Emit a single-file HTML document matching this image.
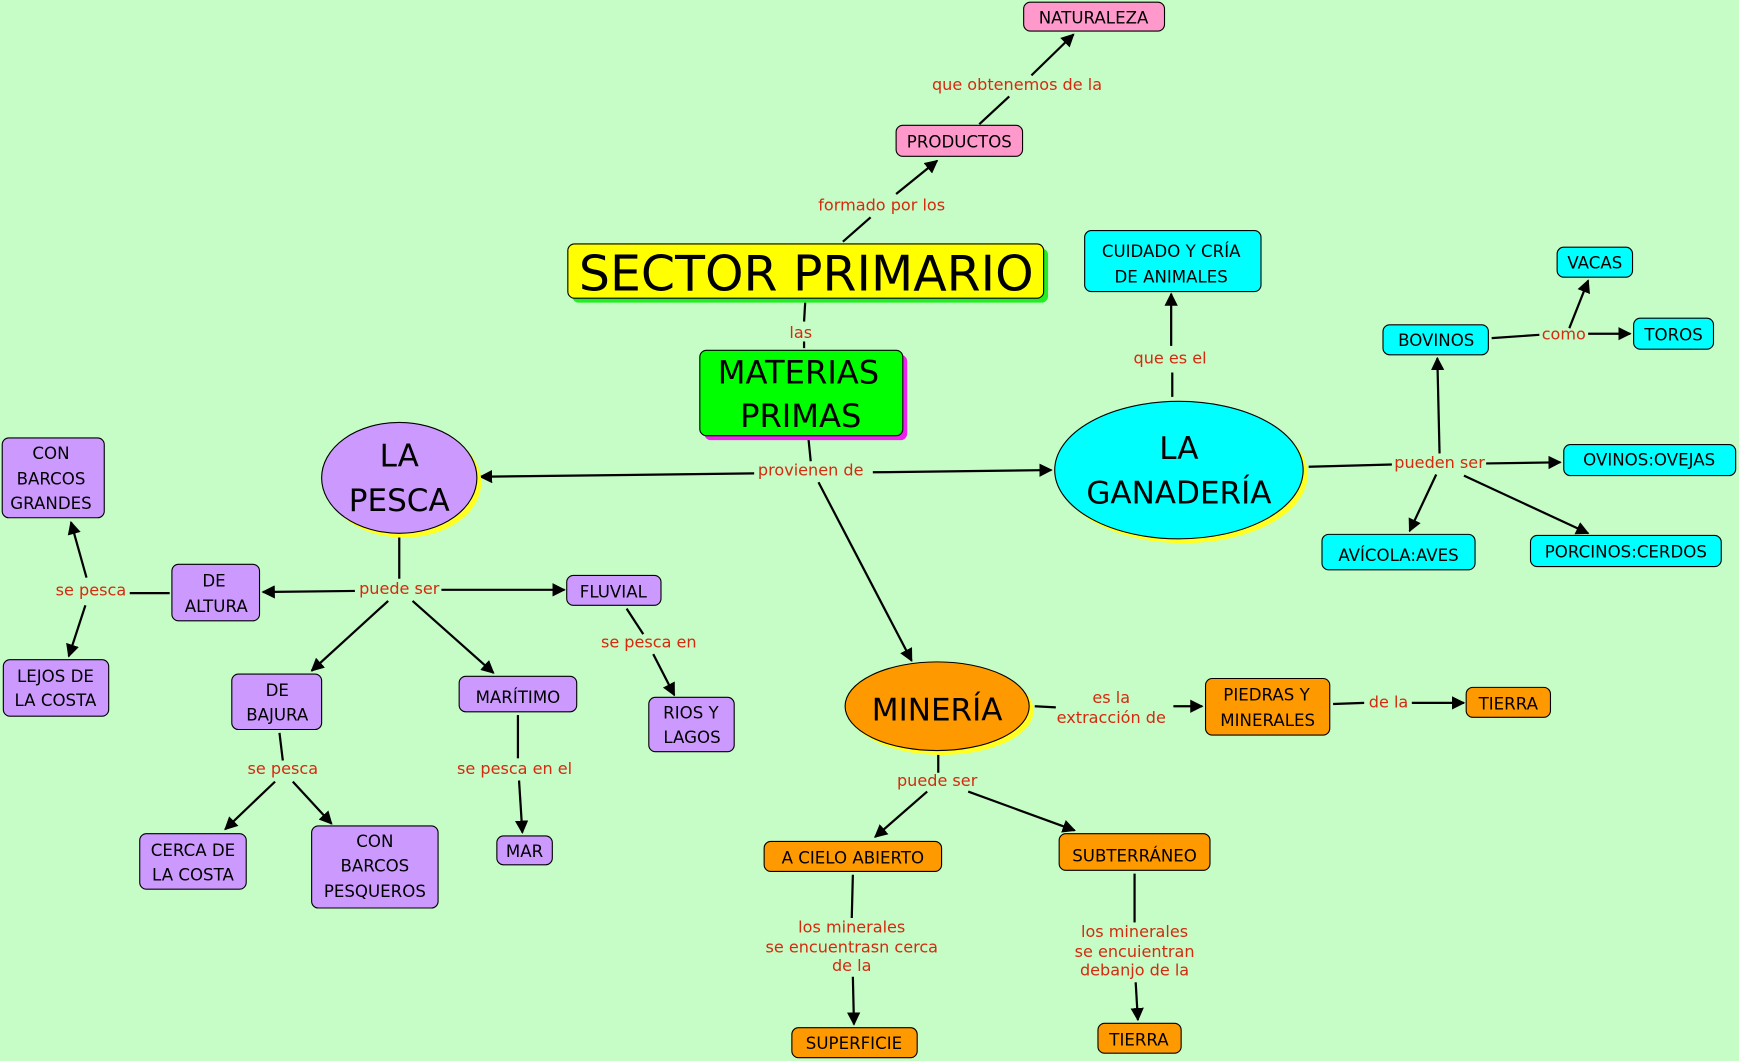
<!DOCTYPE html>
<html><head><meta charset="utf-8"><style>
html,body{margin:0;padding:0;background:#c6fcc6;overflow:hidden}
svg{display:block}
.n{font-family:"DejaVu Sans","Liberation Sans",sans-serif;font-size:15px;fill:#000;text-anchor:middle}
.l{font-family:"DejaVu Sans","Liberation Sans",sans-serif;font-size:14.5px;fill:#d42a10;text-anchor:middle}
.e{stroke:#000;stroke-width:2;fill:none}
.a{stroke:#000;stroke-width:2;fill:none;marker-end:url(#ar)}
.b{stroke:#000;stroke-width:1}
</style></head><body>
<svg width="1739" height="1061" viewBox="0 0 1568 957" preserveAspectRatio="none" xmlns="http://www.w3.org/2000/svg">
<defs><marker id="ar" viewBox="0 0 10 10" refX="9" refY="5" markerWidth="6" markerHeight="6" orient="auto" markerUnits="userSpaceOnUse"><path d="M0,0 L10,5 L0,10 z" fill="#000"/></marker>
<marker id="ar2" viewBox="0 0 10 10" refX="9" refY="5" markerWidth="12" markerHeight="12" orient="auto" markerUnits="userSpaceOnUse"><path d="M0,0 L10,5 L0,10 z" fill="#000"/></marker></defs>
<style>.a{marker-end:url(#ar2)}</style>
<rect width="1568" height="957" fill="#c6fcc6"/>

<!-- connectors -->
<line class="e" x1="760" y1="218" x2="785" y2="196"/><line class="a" x1="808" y1="175" x2="845" y2="145"/>
<line class="e" x1="883" y1="112" x2="910" y2="87"/><line class="a" x1="930" y1="68" x2="968" y2="31"/>
<line class="e" x1="726" y1="273" x2="725" y2="290"/><line class="e" x1="725" y1="308" x2="725" y2="314"/>
<line class="e" x1="729" y1="396" x2="731" y2="416"/>
<line class="a" x1="680" y1="427" x2="433" y2="430"/>
<line class="a" x1="787" y1="426" x2="948" y2="424"/>
<line class="a" x1="738" y1="435" x2="822" y2="596"/>
<line class="e" x1="1057" y1="358" x2="1057" y2="336"/><line class="a" x1="1056" y1="312" x2="1056" y2="265"/>
<line class="e" x1="1180" y1="421" x2="1255" y2="419"/>
<line class="a" x1="1298" y1="409" x2="1296" y2="323"/>
<line class="a" x1="1340" y1="418" x2="1407" y2="417"/>
<line class="a" x1="1295" y1="428" x2="1271" y2="479"/>
<line class="a" x1="1320" y1="429" x2="1432" y2="481"/>
<line class="e" x1="1345" y1="305" x2="1388" y2="302"/>
<line class="a" x1="1415" y1="296" x2="1432" y2="253"/>
<line class="a" x1="1432" y1="301" x2="1470" y2="301"/>
<line class="e" x1="360" y1="484" x2="360" y2="522"/>
<line class="a" x1="320" y1="533" x2="237" y2="534"/>
<line class="a" x1="398" y1="532" x2="509" y2="532"/>
<line class="a" x1="350" y1="542" x2="281" y2="605"/>
<line class="a" x1="372" y1="542" x2="445" y2="607"/>
<line class="e" x1="153" y1="535" x2="117" y2="535"/>
<line class="a" x1="78" y1="521" x2="64" y2="471"/>
<line class="a" x1="77" y1="546" x2="62" y2="592"/>
<line class="e" x1="252" y1="661" x2="255" y2="686"/>
<line class="a" x1="248" y1="705" x2="203" y2="748"/>
<line class="a" x1="264" y1="705" x2="299" y2="743"/>
<line class="e" x1="467" y1="645" x2="467" y2="684"/><line class="a" x1="468" y1="704" x2="471" y2="751"/>
<line class="e" x1="565" y1="549" x2="580" y2="572"/><line class="a" x1="589" y1="590" x2="608" y2="627"/>
<line class="e" x1="933" y1="637" x2="952" y2="638"/><line class="a" x1="1058" y1="637" x2="1084" y2="637"/>
<line class="e" x1="1202" y1="635" x2="1230" y2="634"/><line class="a" x1="1273" y1="634" x2="1320" y2="634"/>
<line class="e" x1="846" y1="680" x2="846" y2="697"/>
<line class="a" x1="836" y1="714" x2="789" y2="755"/>
<line class="a" x1="873" y1="714" x2="969" y2="749"/>
<line class="e" x1="769" y1="789" x2="768" y2="828"/><line class="a" x1="769" y1="881" x2="770" y2="924"/>
<line class="e" x1="1023" y1="788" x2="1023" y2="832"/><line class="a" x1="1024" y1="886" x2="1026" y2="920"/>

<!-- labels -->
<text class="l" x="795" y="190">formado por los</text>
<text class="l" x="917" y="81">que obtenemos de la</text>
<text class="l" x="722" y="305">las</text>
<text class="l" x="731" y="429">provienen de</text>
<text class="l" x="1055" y="328">que es el</text>
<text class="l" x="1298" y="422">pueden ser</text>
<text class="l" x="1410" y="306">como</text>
<text class="l" x="360" y="536">puede ser</text>
<text class="l" x="82" y="537">se pesca</text>
<text class="l" x="255" y="698">se pesca</text>
<text class="l" x="464" y="698">se pesca en el</text>
<text class="l" x="585" y="584">se pesca en</text>
<text class="l" x="1002" y="634">es la</text><text class="l" x="1002" y="652">extracción de</text>
<text class="l" x="1252" y="638">de la</text>
<text class="l" x="845" y="709">puede ser</text>
<text class="l" x="768" y="841">los minerales</text><text class="l" x="768" y="859">se encuentrasn cerca</text><text class="l" x="768" y="876">de la</text>
<text class="l" x="1023" y="845">los minerales</text><text class="l" x="1023" y="863">se encuientran</text><text class="l" x="1023" y="880">debanjo de la</text>

<!-- nodes -->
<g class="b">
<rect x="923" y="2" width="127" height="26" rx="6" fill="#ff99cc"/>
<rect x="808" y="113" width="114" height="28" rx="6" fill="#ff99cc"/>
<rect x="516" y="224" width="429" height="49" rx="6" fill="#22ee22" stroke="none"/>
<rect x="512" y="220" width="429" height="49" rx="6" fill="#ffff00"/>
<rect x="635" y="320" width="183" height="77" rx="6" fill="#ee22ee" stroke="none"/>
<rect x="631" y="316" width="183" height="77" rx="6" fill="#00ff00"/>
<rect x="978" y="208" width="159" height="55" rx="6" fill="#00ffff"/>
<rect x="1404" y="223" width="68" height="27" rx="6" fill="#00ffff"/>
<rect x="1247" y="293" width="95" height="27" rx="6" fill="#00ffff"/>
<rect x="1473" y="287" width="72" height="28" rx="6" fill="#00ffff"/>
<rect x="1410" y="401" width="155" height="28" rx="6" fill="#00ffff"/>
<rect x="1192" y="482" width="138" height="32" rx="6" fill="#00ffff"/>
<rect x="1380" y="483" width="172" height="28" rx="6" fill="#00ffff"/>
<ellipse cx="1067" cy="428" rx="112" ry="62" fill="#ffff22" stroke="none"/>
<ellipse cx="1063" cy="424" rx="112" ry="62" fill="#00ffff"/>
<ellipse cx="364" cy="435" rx="70" ry="50" fill="#ffff22" stroke="none"/>
<ellipse cx="360" cy="431" rx="70" ry="50" fill="#cc99ff"/>
<rect x="2" y="395" width="92" height="72" rx="6" fill="#cc99ff"/>
<rect x="155" y="509" width="79" height="51" rx="6" fill="#cc99ff"/>
<rect x="3" y="595" width="95" height="51" rx="6" fill="#cc99ff"/>
<rect x="511" y="519" width="85" height="27" rx="6" fill="#cc99ff"/>
<rect x="209" y="608" width="81" height="50" rx="6" fill="#cc99ff"/>
<rect x="414" y="610" width="106" height="32" rx="6" fill="#cc99ff"/>
<rect x="585" y="629" width="77" height="49" rx="6" fill="#cc99ff"/>
<rect x="126" y="752" width="96" height="50" rx="6" fill="#cc99ff"/>
<rect x="281" y="745" width="114" height="74" rx="6" fill="#cc99ff"/>
<rect x="448" y="754" width="50" height="26" rx="6" fill="#cc99ff"/>
<ellipse cx="849" cy="641" rx="83" ry="40" fill="#ffff22" stroke="none"/>
<ellipse cx="845" cy="637" rx="83" ry="40" fill="#ff9900"/>
<rect x="1087" y="612" width="112" height="51" rx="6" fill="#ff9900"/>
<rect x="1322" y="620" width="76" height="27" rx="6" fill="#ff9900"/>
<rect x="689" y="759" width="160" height="27" rx="6" fill="#ff9900"/>
<rect x="955" y="752" width="136" height="33" rx="6" fill="#ff9900"/>
<rect x="714" y="927" width="113" height="27" rx="6" fill="#ff9900"/>
<rect x="990" y="923" width="75" height="27" rx="6" fill="#ff9900"/>
</g>

<text class="n" x="986" y="21">NATURALEZA</text>
<text class="n" x="865" y="133">PRODUCTOS</text>
<text class="n" x="727" y="262" style="font-size:44px" textLength="410" lengthAdjust="spacingAndGlyphs">SECTOR PRIMARIO</text>
<text class="n" x="720" y="346" style="font-size:29px">MATERIAS</text>
<text class="n" x="722" y="385" style="font-size:29px">PRIMAS</text>
<text class="n" x="1056" y="232">CUIDADO Y CRÍA</text><text class="n" x="1056" y="255">DE ANIMALES</text>
<text class="n" x="1438" y="242">VACAS</text>
<text class="n" x="1295" y="312">BOVINOS</text>
<text class="n" x="1509" y="307">TOROS</text>
<text class="n" x="1487" y="420">OVINOS:OVEJAS</text>
<text class="n" x="1261" y="506">AVÍCOLA:AVES</text>
<text class="n" x="1466" y="503">PORCINOS:CERDOS</text>
<text class="n" x="1063" y="414" style="font-size:28px">LA</text><text class="n" x="1063" y="454" style="font-size:28px">GANADERÍA</text>
<text class="n" x="360" y="421" style="font-size:28px">LA</text><text class="n" x="360" y="461" style="font-size:28px">PESCA</text>
<text class="n" x="46" y="414">CON</text><text class="n" x="46" y="437">BARCOS</text><text class="n" x="46" y="459">GRANDES</text>
<text class="n" x="193" y="529">DE</text><text class="n" x="195" y="552">ALTURA</text>
<text class="n" x="50" y="615">LEJOS DE</text><text class="n" x="50" y="637">LA COSTA</text>
<text class="n" x="553" y="539">FLUVIAL</text>
<text class="n" x="250" y="628">DE</text><text class="n" x="250" y="650">BAJURA</text>
<text class="n" x="467" y="634">MARÍTIMO</text>
<text class="n" x="623" y="648">RIOS Y</text><text class="n" x="624" y="670">LAGOS</text>
<text class="n" x="174" y="772">CERCA DE</text><text class="n" x="174" y="794">LA COSTA</text>
<text class="n" x="338" y="764">CON</text><text class="n" x="338" y="786">BARCOS</text><text class="n" x="338" y="809">PESQUEROS</text>
<text class="n" x="473" y="773">MAR</text>
<text class="n" x="845" y="650" style="font-size:28px">MINERÍA</text>
<text class="n" x="1142" y="632">PIEDRAS Y</text><text class="n" x="1143" y="655">MINERALES</text>
<text class="n" x="1360" y="640">TIERRA</text>
<text class="n" x="769" y="779">A CIELO ABIERTO</text>
<text class="n" x="1023" y="777">SUBTERRÁNEO</text>
<text class="n" x="770" y="946">SUPERFICIE</text>
<text class="n" x="1027" y="943">TIERRA</text>
</svg>
</body></html>
